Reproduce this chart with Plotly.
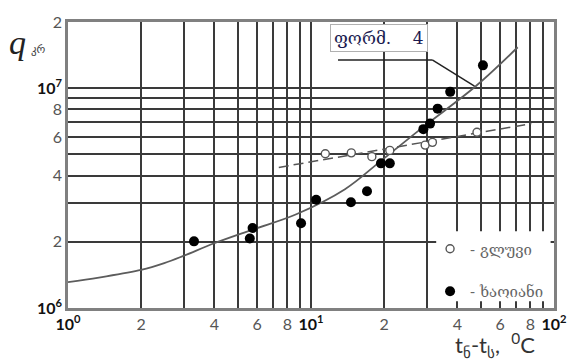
import plotly.graph_objects as go

# Temperature difference (°C) and critical heat flux values
curve_dt = [1, 1.34, 2, 2.49, 3, 4, 5.8, 8.7, 13.8, 19.4, 29.0, 47.6, 70.9]
curve_q = [1.31e6, 1.376e6, 1.49e6, 1.60e6, 1.73e6, 1.97e6, 2.28e6, 2.67e6, 3.47e6,
           4.67e6, 6.67e6, 1.02e7, 1.535e7]

smooth_dt = [11.45, 14.65, 17.8, 21.1, 29.5, 31.6, 48.2]
smooth_q = [5.03e6, 5.08e6, 4.88e6, 5.21e6, 5.51e6, 5.67e6, 6.30e6]

rough_dt = [3.3, 5.6, 5.75, 9.1, 10.5, 14.6, 17.0, 19.4, 21.1, 29.0, 30.9, 33.2, 37.4, 51.0]
rough_q = [2.01e6, 2.07e6, 2.31e6, 2.43e6, 3.11e6, 3.03e6, 3.40e6, 4.55e6, 4.55e6,
           6.51e6, 6.90e6, 8.07e6, 9.62e6, 1.27e7]

fit_dt = [7.37, 80.7]
fit_q = [4.36e6, 6.90e6]

x_ticks = [1, 2, 4, 6, 8, 10, 20, 40, 60, 80, 100]
x_minor = [3, 5, 7, 9, 30, 50, 70, 90]
y_ticks = [1e6, 2e6, 4e6, 6e6, 8e6, 1e7, 2e7]
y_minor = [3e6, 5e6, 7e6, 9e6]


def pow_label(p):
    return "<span style='color:#111'><b>10<sup>%d</sup></b></span>" % p


x_text = [pow_label(0), "2", "4", "6", "8", pow_label(1), "2", "4", "6", "8", pow_label(2)]
y_text = [pow_label(6), "2", "4", "6", "8", pow_label(7), "2"]

GRID = "#3a3a3a"
FRAME = "#808080"

fig = go.Figure()

fig.add_trace(go.Scatter(
    x=curve_dt, y=curve_q, mode="lines",
    line=dict(color="#5c5c5c", width=1.8, shape="spline", smoothing=1.0),
    showlegend=False, hoverinfo="skip"))

fig.add_trace(go.Scatter(
    x=fit_dt, y=fit_q, mode="lines",
    line=dict(color="#555555", width=1.5, dash="10px,5px"),
    showlegend=False, hoverinfo="skip"))

fig.add_trace(go.Scatter(
    x=smooth_dt, y=smooth_q, mode="markers", name="- გლუვი",
    legendgroup="a",
    marker=dict(symbol="circle", size=8, color="white",
                line=dict(color="#555555", width=1.4))))

fig.add_trace(go.Scatter(
    x=rough_dt, y=rough_q, mode="markers", name="- ხაოიანი",
    legendgroup="b",
    marker=dict(symbol="circle", size=10, color="black",
                line=dict(color="black", width=0))))

axis_common = dict(
    type="log", showgrid=True, gridcolor=GRID, gridwidth=1.6,
    showline=True, linecolor=FRAME, linewidth=2.5, mirror=True,
    ticks="", zeroline=False,
    tickfont=dict(family="Lato", size=16, color="#555555"),
)

fig.update_layout(
    width=579, height=362,
    margin=dict(l=68, r=16, t=14, b=54),
    paper_bgcolor="white", plot_bgcolor="white",
    xaxis=dict(axis_common, range=[0, 2], tickmode="array",
               tickvals=x_ticks, ticktext=x_text,
               minor=dict(tickmode="array", tickvals=x_minor, showgrid=True,
                          gridcolor=GRID, gridwidth=1.6, ticks="")),
    yaxis=dict(axis_common, range=[6, 7.30103], tickmode="array",
               tickvals=y_ticks, ticktext=y_text,
               minor=dict(tickmode="array", tickvals=y_minor, showgrid=True,
                          gridcolor=GRID, gridwidth=1.6, ticks="")),
    showlegend=True,
    legend=dict(x=0.745, y=0.264, xanchor="left", yanchor="top",
                bgcolor="rgba(0,0,0,0)", borderwidth=0,
                traceorder="grouped", tracegroupgap=20,
                font=dict(family="DejaVu Serif", size=15, color="#666666")),
    shapes=[
        # blank panel behind the legend
        dict(type="rect", xref="paper", yref="paper",
             x0=0.7576, x1=0.993, y0=0.024, y1=0.2687,
             fillcolor="white", line=dict(width=0), layer="above"),
        # leader line of the formula label
        dict(type="line", xref="paper", yref="paper",
             x0=0.5556, y0=0.8673, x1=0.7495, y1=0.8673,
             line=dict(color="#222222", width=1.5)),
        dict(type="line", xref="paper", yref="paper",
             x0=0.7495, y0=0.8673, x1=0.8364, y1=0.7755,
             line=dict(color="#222222", width=1.5)),
    ],
    annotations=[
        dict(text="ფორმ.\u00a0\u00a0\u00a0\u00a04", xref="paper", yref="paper",
             x=0.6394, y=0.9439, xanchor="center", yanchor="middle",
             showarrow=False, bgcolor="white", bordercolor="#b0b0b0",
             borderwidth=1, borderpad=3,
             font=dict(family="DejaVu Serif", size=17, color="#1c1c50")),
        dict(text="<i>q</i>", xref="paper", yref="paper",
             x=-0.103, y=0.93, xanchor="center", yanchor="middle",
             showarrow=False,
             font=dict(family="Liberation Serif", size=34, color="#222222")),
        dict(text="კრ", xref="paper", yref="paper",
             x=-0.060, y=0.905, xanchor="center", yanchor="middle",
             showarrow=False,
             font=dict(family="DejaVu Sans", size=11, color="#444444")),
        dict(text="t<sub>ნ</sub>-t<sub>ს</sub>,\u00a0\u00a0<sup>0</sup>C",
             xref="paper", yref="paper",
             x=0.878, y=-0.13, xanchor="center", yanchor="middle",
             showarrow=False,
             font=dict(family="Lato", size=22, color="#333333")),
    ],
)

fig.write_html("out.html")
